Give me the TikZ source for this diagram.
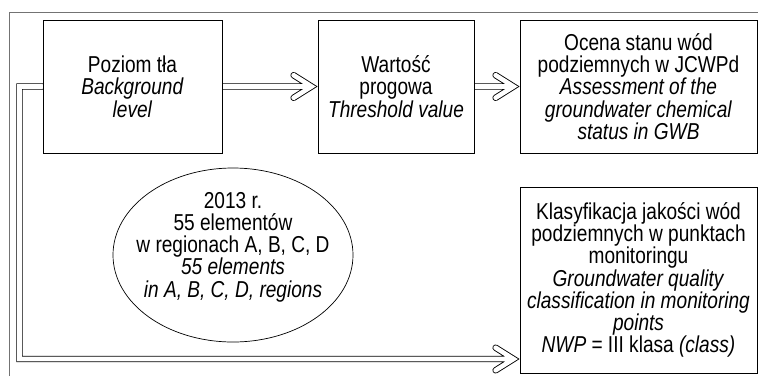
\documentclass[tikz,border=0pt]{standalone}
\usepackage{fontspec}
\setmainfont{Liberation Sans}[FakeStretch=0.83]
\usetikzlibrary{shapes.geometric}
\pgfdeclarelayer{background}
\pgfsetlayers{background,main}

\tikzset{
  every node/.style={font=\fontsize{23}{22.3}\selectfont},
  stepbox/.style={draw, line width=0.8pt, fill=white, inner sep=0pt, align=center},
  oval/.style={draw, ellipse, line width=0.7pt, fill=white, inner sep=0pt},
  txt/.style={align=center, inner sep=0pt},
  frame/.style={draw=black!55, line width=1pt},
  dbl/.style={draw, double, double distance=4.6pt, line width=0.9pt,
              line cap=round, line join=miter},
  chev/.style={insert path={([xshift=-24pt,yshift=11.3pt]#1) -- ([xshift=-6pt]#1)
                            -- ([xshift=-24pt,yshift=-11.3pt]#1)}}
}

\begin{document}
\begin{tikzpicture}[x=1pt,y=-1pt]
\useasboundingbox (0,0) rectangle (758,376);

% page frame (top and left edges)
\draw[frame] (9.5,376) -- (9.5,12.5) -- (758,12.5);

% boxes
\node[stepbox, minimum width=179pt, minimum height=133pt] (b1) at (132.5,86.5)
  {Poziom tła\\\textit{Background}\\\textit{level}};
\node[stepbox, minimum width=156pt, minimum height=133pt] (b2) at (396,86.5)
  {Wartość\\progowa\\\textit{Threshold value}};
\node[stepbox, minimum width=237pt, minimum height=133pt] (b3) at (638.5,86.5)
  {Ocena stanu wód\\podziemnych w JCWPd\\\textit{Assessment of the}\\\textit{groundwater chemical}\\\textit{status in GWB}};
\node[stepbox, minimum width=237pt, minimum height=186pt] (b4) at (638.5,280)
  {Klasyfikacja jakości wód\\podziemnych w punktach\\monitoringu\\\textit{Groundwater quality}\\\textit{classification in monitoring}\\\textit{points}\\\textit{NWP} = III klasa \textit{(class)}};

% oval with the data set description
\node[oval, minimum width=240pt, minimum height=174pt] (ell) at (233,255) {};
\node[txt] (elltxt) at (233,247)
  {2013 r.\\55 elementów\\w regionach A, B, C, D\\\textit{55 elements}\\\textit{in A, B, C, D, regions}};

% routing points of the long connector
\coordinate (elbowTop) at (19.5,86.5);
\coordinate (elbowBot) at (19.5,359);
\coordinate (endB4) at (b4.west |- elbowBot);

% double-line connectors with open arrowheads
\begin{pgfonlayer}{background}
\draw[dbl] (b1.east) -- ([xshift=-6pt]b2.west) [chev=b2.west];
\draw[dbl] (b2.east) -- ([xshift=-6pt]b3.west) [chev=b3.west];
\draw[dbl] (b1.west) -- (elbowTop) -- (elbowBot) -- ([xshift=-6pt]endB4) [chev=endB4];
\end{pgfonlayer}
\end{tikzpicture}
\end{document}
